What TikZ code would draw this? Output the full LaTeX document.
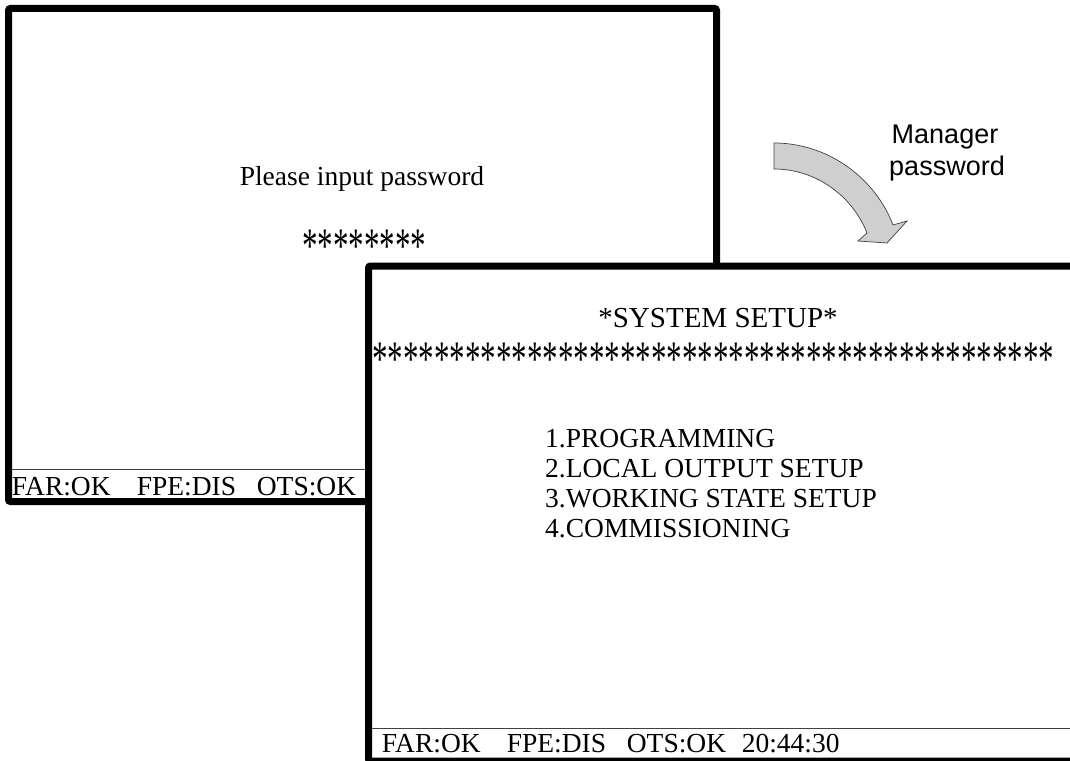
\documentclass[tikz,border=0pt]{standalone}
\usepackage{fontspec}
\setmainfont{Liberation Serif}
\newfontfamily\labelfont{Liberation Sans}
\usetikzlibrary{positioning}

\newcommand{\statusfields}[1]{\makebox[125pt][l]{FAR:OK}\makebox[120pt][l]{FPE:DIS}\makebox[115pt][l]{OTS:OK}#1}
\newcommand{\starrow}[1]{\scalebox{1}[1.6]{\foreach \k in {1,...,#1}{*}}}

\begin{document}
\begin{tikzpicture}[x=1pt, y=-1pt, font=\fontsize{27.5}{30}\selectfont,
  screen/.style={draw, line width=7pt, fill=white, rounded corners=2pt},
  barline/.style={black!75, line width=1pt},
  txt/.style={inner sep=0pt},
  stars/.style={inner sep=0pt, font=\fontsize{31}{31}\selectfont}]
  \useasboundingbox (0,0) rectangle (1070,760);
  \clip (0,0) rectangle (1070,760);
  % password screen
  \draw[screen] (8.5,8.5) rectangle (716.5,501.5);
  \draw[barline] (12,469) -- (713,469);
  \node[txt, anchor=base] (prompt) at (362,185) {Please input password};
  \node[stars, anchor=base] (pwstars) at (364,262) {\starrow{8}};
  \node[txt, anchor=base west] (status1) at (11.7,495) {\statusfields{}};
  % arrow
  \draw[black!75, fill=black!19, line width=0.7pt]
    (774,143) .. controls (830,143) and (876,180) .. (893,225)
    -- (907,221) -- (887,243) -- (858,241) -- (867,233)
    .. controls (852,195) and (815,169) .. (774,169) -- cycle;
  \node[txt, anchor=base, font=\labelfont\fontsize{27}{32}\selectfont] (mgr) at (945,143) {Manager};
  \node[txt, anchor=base, font=\labelfont\fontsize{27}{32}\selectfont] (mgrpw) at (947,175) {password};
  % setup screen
  \draw[screen] (368.5,266) rectangle (1074,761);
  \node[txt, anchor=base, font=\fontsize{29}{30}\selectfont] (title) at (718,327) {*SYSTEM SETUP*};
  \node[stars, anchor=base west] (line) at (372,375) {\starrow{44}};
  \foreach \item [count=\i] in {1.PROGRAMMING, 2.LOCAL OUTPUT SETUP, 3.WORKING STATE SETUP, 4.COMMISSIONING}
    \node[txt, anchor=base west] (item\i) at (545,417+30*\i) {\item};
  \draw[barline] (372,728) -- (1070,728);
  \node[txt, anchor=base west] (status2) at (381.7,752) {\statusfields{20:44:30}};
\end{tikzpicture}
\end{document}
